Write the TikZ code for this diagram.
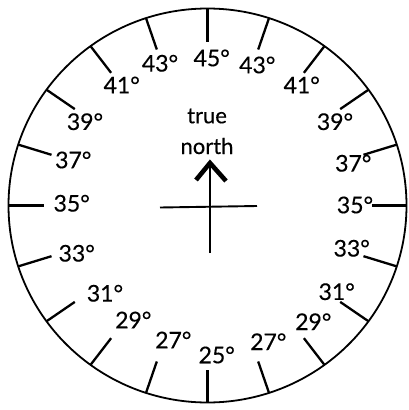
\documentclass[tikz,border=0pt]{standalone}
\usepackage{fontspec}
\setmainfont{Lato}[FakeBold=0.3]
\usetikzlibrary{calc}
\begin{document}
\begin{tikzpicture}[x=1pt,y=-1pt,
  lbl/.style={inner sep=0pt,font=\fontsize{23}{26}\selectfont},
  tick/.style={line width=2.3pt},
  rim/.style={line width=1.8pt},
  crossline/.style={line width=1.9pt}]
\useasboundingbox (0,0) rectangle (408,410);
\coordinate (c) at (207.5,205.5);
\draw[rim] (c) ellipse [x radius=199, y radius=197];
\foreach \k in {0,...,19}{
  \pgfmathsetmacro{\a}{90+18*\k}
  \draw[tick] ($(c)+({199*cos(\a)},{197*sin(\a)})$) -- ($(c)+({164*cos(\a)},{164*sin(\a)})$);
}
% labels
\node[lbl] (l45) at (211.7,58) {45°};
\node[lbl] (l43a) at (160,63.3) {43°};
\node[lbl] (l43b) at (257.3,65) {43°};
\node[lbl] (l41a) at (121.7,85) {41°};
\node[lbl] (l41b) at (301.7,85) {41°};
\node[lbl] (l39a) at (85,121.7) {39°};
\node[lbl] (l39b) at (335,121.7) {39°};
\node[lbl] (l37a) at (73.3,160) {37°};
\node[lbl] (l37b) at (353.3,163.3) {37°};
\node[lbl] (l35a) at (71.7,203.3) {35°};
\node[lbl] (l35b) at (355,205) {35°};
\node[lbl] (l33a) at (76.7,253.3) {33°};
\node[lbl] (l33b) at (351.7,248.3) {33°};
\node[lbl] (l31a) at (105,293.3) {31°};
\node[lbl] (l31b) at (336.7,291.7) {31°};
\node[lbl] (l29a) at (133.3,320) {29°};
\node[lbl] (l29b) at (313.3,321.7) {29°};
\node[lbl] (l27a) at (173.3,340) {27°};
\node[lbl] (l27b) at (268.3,341.7) {27°};
\node[lbl] (l25) at (216.7,355) {25°};
% center
\node[lbl,font=\fontsize{22}{25}\selectfont] (t1) at (207,116) {true};
\node[lbl,font=\fontsize{22}{25}\selectfont] (t2) at (207,146) {north};
\coordinate (hl) at (160,207.5);
\coordinate (hr) at (257,206);
\coordinate (vb) at (210,253);
\coordinate (vt) at (210,163);
\coordinate (al) at (196,180);
\coordinate (ar) at (226,181);
\draw[crossline] (hl) -- (hr);
\draw[crossline] (vb) -- (vt);
\draw[line width=4.6pt,line join=miter] (al) -- (vt) -- (ar);
\end{tikzpicture}
\end{document}
